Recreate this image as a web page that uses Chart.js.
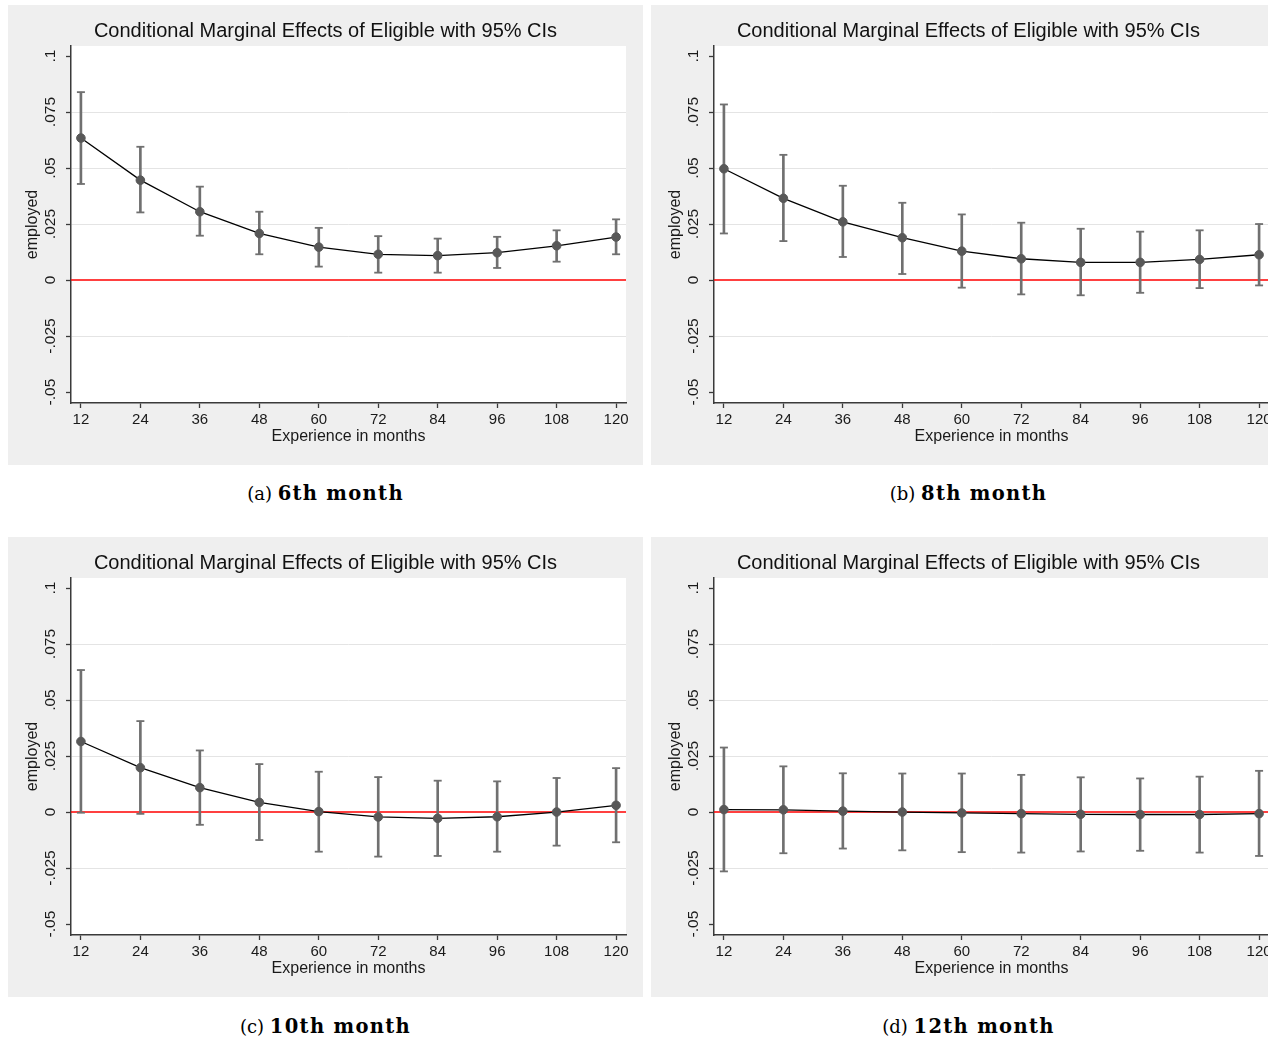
<!DOCTYPE html>
<html>
<head>
<meta charset="utf-8">
<script src="https://cdn.jsdelivr.net/npm/chart.js@4.4.1/dist/chart.umd.min.js"></script>
<style>
  html, body { margin: 0; padding: 0; background: #fff; }
  body { width: 1268px; height: 1042px; overflow: hidden; position: relative; }
  .panel { position: absolute; width: 635px; height: 460px; background: #efefef; }
  .panel canvas { display: block; }
  .cap { position: absolute; width: 635px; text-align: center; font-family: "DejaVu Serif", serif; font-size: 18px; color: #000; }
  .cap b { font-size: 19.5px; letter-spacing: 1.3px; }
</style>
</head>
<body>
<div class="panel" style="left:8px;top:5px"><canvas id="m6" width="635" height="460"></canvas></div>
<div class="panel" style="left:651px;top:5px"><canvas id="m8" width="635" height="460"></canvas></div>
<div class="panel" style="left:8px;top:537px"><canvas id="m10" width="635" height="460"></canvas></div>
<div class="panel" style="left:651px;top:537px"><canvas id="m12" width="635" height="460"></canvas></div>
<div class="cap" style="left:8px;top:482px">(a) <b>6th month</b></div>
<div class="cap" style="left:651px;top:482px">(b) <b>8th month</b></div>
<div class="cap" style="left:8px;top:1015px">(c) <b>10th month</b></div>
<div class="cap" style="left:651px;top:1015px">(d) <b>12th month</b></div>
<script>
// experience (months) at which the marginal effect is evaluated
const months = [12, 24, 36, 48, 60, 72, 84, 96, 108, 120];

// 6th month
const est6 = [0.0634, 0.0446, 0.0305, 0.0208, 0.0147, 0.0115, 0.0109, 0.0122, 0.0153, 0.0192];
const lo6  = [0.0429, 0.0302, 0.0198, 0.0115, 0.0060, 0.0033, 0.0033, 0.0054, 0.0082, 0.0115];
const hi6  = [0.0839, 0.0595, 0.0417, 0.0305, 0.0233, 0.0196, 0.0185, 0.0193, 0.0222, 0.0271];

// 8th month
const est8 = [0.0497, 0.0365, 0.0260, 0.0189, 0.0129, 0.0095, 0.0079, 0.0079, 0.0092, 0.0113];
const lo8  = [0.0208, 0.0174, 0.0103, 0.0027, -0.0034, -0.0064, -0.0068, -0.0057, -0.0036, -0.0024];
const hi8  = [0.0784, 0.0559, 0.0421, 0.0345, 0.0293, 0.0256, 0.0229, 0.0216, 0.0222, 0.0250];

// 10th month
const est10 = [0.0315, 0.0198, 0.0109, 0.0043, 0.0002, -0.0022, -0.0028, -0.0021, 0.0000, 0.0030];
const lo10  = [-0.0003, -0.0008, -0.0057, -0.0125, -0.0177, -0.0199, -0.0196, -0.0177, -0.0150, -0.0135];
const hi10  = [0.0634, 0.0406, 0.0275, 0.0214, 0.0180, 0.0156, 0.0140, 0.0137, 0.0152, 0.0196];

// 12th month
const est12 = [0.0011, 0.0010, 0.0004, 0.0000, -0.0004, -0.0007, -0.0010, -0.0011, -0.0011, -0.0007];
const lo12  = [-0.0265, -0.0184, -0.0163, -0.0171, -0.0179, -0.0181, -0.0176, -0.0173, -0.0181, -0.0196];
const hi12  = [0.0288, 0.0204, 0.0173, 0.0172, 0.0172, 0.0166, 0.0155, 0.0150, 0.0158, 0.0184];

const yTicks = [-0.05, -0.025, 0, 0.025, 0.05, 0.075, 0.1];
const yTickLabels = ['-.05', '-.025', '0', '.025', '.05', '.075', '.1'];

const axisColor = '#3a3a3a';
const ciColor = '#707070';
const dotColor = '#585858';
const sans = '"Liberation Sans", Arial, sans-serif';

// white plot region, red reference line at zero, rotated y tick labels
const stataLook = {
  id: 'stataLook',
  beforeDraw(chart) {
    const a = chart.chartArea, ctx = chart.ctx;
    ctx.save();
    ctx.fillStyle = '#fff';
    ctx.fillRect(a.left, a.top, a.right - a.left, a.bottom - a.top);
    ctx.restore();
  },
  beforeDatasetsDraw(chart) {
    const a = chart.chartArea, ctx = chart.ctx;
    const y0 = chart.scales.y.getPixelForValue(0);
    ctx.save();
    ctx.strokeStyle = '#ff0000';
    ctx.lineWidth = 1.5;
    ctx.beginPath();
    ctx.moveTo(a.left, y0);
    ctx.lineTo(a.right, y0);
    ctx.stroke();
    ctx.restore();
  },
  afterDraw(chart) {
    const ys = chart.scales.y, ctx = chart.ctx;
    ctx.save();
    ctx.fillStyle = '#1a1a1a';
    ctx.font = '15.5px ' + sans;
    ctx.textAlign = 'center';
    ctx.textBaseline = 'middle';
    yTicks.forEach((v, i) => {
      ctx.save();
      ctx.translate(ys.right - 20, ys.getPixelForValue(v));
      ctx.rotate(-Math.PI / 2);
      ctx.fillText(yTickLabels[i], 0, 0);
      ctx.restore();
    });
    ctx.restore();
  }
};

function makeChart(id, est, lo, hi) {
  const pts = arr => months.map((m, i) => ({x: m, y: arr[i]}));
  return new Chart(document.getElementById(id), {
    type: 'line',
    data: {
      datasets: [
        {
          type: 'line',
          data: pts(est),
          borderColor: '#000',
          borderWidth: 1.3,
          pointRadius: 4.3,
          pointBackgroundColor: dotColor,
          pointBorderColor: dotColor,
          pointBorderWidth: 1,
          order: 0
        },
        {
          type: 'bar',
          data: months.map((m, i) => ({x: m, y: [lo[i], hi[i]]})),
          backgroundColor: ciColor,
          borderWidth: 0,
          barThickness: 2,
          grouped: false,
          order: 1
        },
        {
          type: 'line',
          data: pts(lo),
          showLine: false,
          pointStyle: 'line',
          pointRadius: 4,
          pointBorderWidth: 1.8,
          pointBorderColor: ciColor,
          order: 1
        },
        {
          type: 'line',
          data: pts(hi),
          showLine: false,
          pointStyle: 'line',
          pointRadius: 4,
          pointBorderWidth: 1.8,
          pointBorderColor: ciColor,
          order: 1
        }
      ]
    },
    options: {
      responsive: false,
      animation: false,
      events: [],
      layout: {padding: 0},
      plugins: {
        legend: {display: false},
        tooltip: {enabled: false},
        title: {
          display: true,
          text: 'Conditional Marginal Effects of Eligible with 95% CIs',
          color: '#111',
          font: {family: sans, size: 20, weight: 'normal'},
          padding: {top: 14.3, bottom: 2.7}
        }
      },
      scales: {
        x: {
          type: 'linear',
          min: 10,
          max: 122,
          bounds: 'data',
          offset: false,
          afterBuildTicks: s => { s.ticks = months.map(v => ({value: v})); },
          afterFit: s => { s.height = 62; },
          ticks: {
            autoSkip: false,
            maxRotation: 0,
            padding: 2.5,
            color: '#1a1a1a',
            font: {family: sans, size: 15}
          },
          grid: {drawOnChartArea: false, tickLength: 5, tickColor: axisColor, tickWidth: 1.3, offset: false},
          border: {color: axisColor, width: 1.5},
          title: {
            display: true,
            text: 'Experience in months',
            color: '#1a1a1a',
            font: {family: sans, size: 16},
            padding: {top: 0, bottom: 19}
          }
        },
        y: {
          type: 'linear',
          min: -0.0549,
          max: 0.1045,
          bounds: 'data',
          beginAtZero: false,
          afterBuildTicks: s => { s.ticks = yTicks.map(v => ({value: v})); },
          afterFit: s => { s.width = 63; },
          ticks: {display: false},
          grid: {
            color: c => (c.tick && c.tick.value > -0.04 && c.tick.value < 0.09 && c.tick.value !== 0) ? '#e4e4e4' : 'rgba(0,0,0,0)',
            lineWidth: 1,
            tickLength: 5,
            tickColor: axisColor,
            tickWidth: 1.3
          },
          border: {color: axisColor, width: 1.5},
          title: {
            display: true,
            text: 'employed',
            color: '#1a1a1a',
            font: {family: sans, size: 16},
            padding: {top: 15.4, bottom: 0}
          }
        },
        // empty right-hand margin so the title stays centred on the whole panel
        yMargin: {
          type: 'linear',
          position: 'right',
          afterFit: s => { s.width = 17; },
          ticks: {display: false},
          grid: {display: false},
          border: {display: false}
        }
      }
    },
    plugins: [stataLook]
  });
}

makeChart('m6', est6, lo6, hi6);
makeChart('m8', est8, lo8, hi8);
makeChart('m10', est10, lo10, hi10);
makeChart('m12', est12, lo12, hi12);
</script>
</body>
</html>
